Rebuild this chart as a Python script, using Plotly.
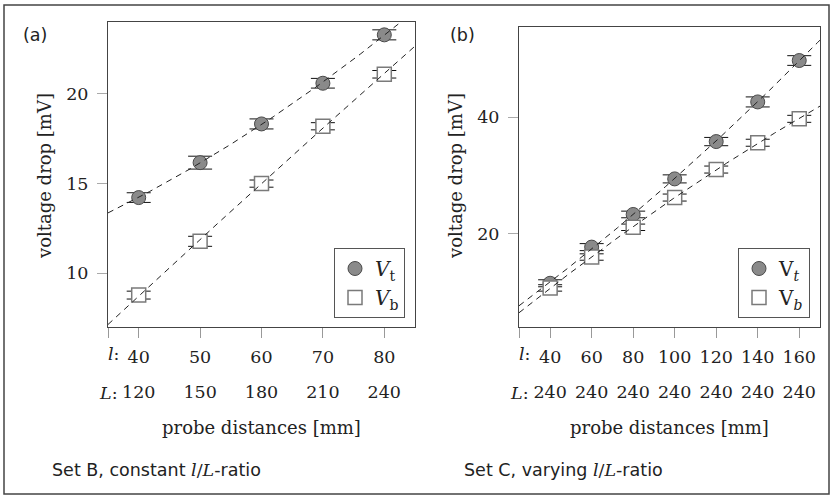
import numpy as np
import plotly.graph_objects as go

# ---------------- data ----------------
# Set B (panel a): constant l/L ratio
a_l = [40, 50, 60, 70, 80]
a_L = [120, 150, 180, 210, 240]
a_vt = [14.22, 16.17, 18.33, 20.6, 23.3]
a_vt_err = [0.27, 0.36, 0.28, 0.27, 0.28]
a_vb = [8.78, 11.78, 15.0, 18.2, 21.1]
a_vb_err = [0.22, 0.28, 0.2, 0.2, 0.21]
a_yticks = [10, 15, 20]

# Set C (panel b): varying l/L ratio
b_l = [40, 60, 80, 100, 120, 140, 160]
b_L = [240, 240, 240, 240, 240, 240, 240]
b_vt = [11.5, 17.7, 23.3, 29.4, 35.8, 42.6, 49.7]
b_vt_err = [0.6, 0.6, 0.57, 0.69, 0.71, 0.86, 0.83]
b_vb = [10.7, 16.0, 21.1, 26.2, 31.0, 35.6, 39.7]
b_vb_err = [0.55, 0.55, 0.55, 0.6, 0.6, 0.6, 0.6]
b_yticks = [20, 40]

a_xrange = [35, 85]
a_yrange = [7, 24]
b_xrange = [25, 170]
b_yrange = [4, 55.5]

W, H = 832, 498

SERIF = "DejaVu Serif"
SANS = "DejaVu Sans"
TICKFONT = dict(family=SERIF, size=17.5, color="#222")

CIRCLE = dict(symbol="circle", size=14, color="#8a8a8a", line=dict(color="#4a4a4a", width=1))
SQUARE = dict(symbol="square", size=14, color="white", line=dict(color="#7a7a7a", width=1.5))
ERR = dict(color="#111", thickness=1, width=12)
FITLINE = dict(color="#222", width=1, dash="6px,5px")


def px_x(p):
    return p / W


def px_y(p):
    return 1 - p / H


fig = go.Figure()


def add_panel(xs, vt, vt_err, vb, vb_err, xr, xa, ya, legend, names):
    fig.add_trace(go.Scatter(x=xs, y=vt, mode="markers", marker=CIRCLE,
                             error_y=dict(type="data", array=vt_err, **ERR),
                             xaxis=xa, yaxis=ya, legend=legend, name=names[0]))
    fig.add_trace(go.Scatter(x=xs, y=vb, mode="markers", marker=SQUARE,
                             error_y=dict(type="data", array=vb_err, **ERR),
                             xaxis=xa, yaxis=ya, legend=legend, name=names[1]))
    grid = np.linspace(xr[0], xr[1], 120)
    for series in (vt, vb):
        coef = np.polyfit(xs, series, 2)
        fig.add_trace(go.Scatter(x=grid, y=np.polyval(coef, grid), mode="lines",
                                 line=FITLINE, xaxis=xa, yaxis=ya,
                                 showlegend=False, hoverinfo="skip"))


add_panel(a_l, a_vt, a_vt_err, a_vb, a_vb_err, a_xrange, "x", "y", "legend",
          ["<i>V</i><sub>t</sub>", "<i>V</i><sub>b</sub>"])
add_panel(b_l, b_vt, b_vt_err, b_vb, b_vb_err, b_xrange, "x2", "y2", "legend2",
          ["V<sub><i>t</i></sub>", "V<sub><i>b</i></sub>"])

# invisible traces so that the L-row axes are drawn
fig.add_trace(go.Scatter(x=a_l, y=[None] * len(a_l), xaxis="x3", yaxis="y",
                         showlegend=False, hoverinfo="skip", mode="markers"))
fig.add_trace(go.Scatter(x=b_l, y=[None] * len(b_l), xaxis="x4", yaxis="y2",
                         showlegend=False, hoverinfo="skip", mode="markers"))

a_dom_x = [px_x(108), px_x(415)]
b_dom_x = [px_x(519), px_x(820)]
a_dom_y = [px_y(327), px_y(22.3)]
b_dom_y = [px_y(327), px_y(26.7)]

frame = dict(showline=True, mirror=True, linecolor="#444", linewidth=1,
             showgrid=False, zeroline=False, automargin=False)
xtick = dict(ticks="outside", ticklen=10, tickcolor="#999", tickwidth=1,
             tickfont=TICKFONT, ticklabelstandoff=4)
ytick = dict(ticks="outside", ticklen=10, tickcolor="#aaa", tickwidth=1,
             tickfont=TICKFONT, ticklabelstandoff=5)

Lrow_pos = px_y(375)

fig.update_layout(
    width=W, height=H,
    margin=dict(l=0, r=0, t=0, b=0),
    paper_bgcolor="white", plot_bgcolor="white",
    xaxis=dict(domain=a_dom_x, range=a_xrange, anchor="y",
               tickvals=a_l, ticktext=[str(v) for v in a_l],
               minor=dict(tickvals=[a_xrange[0]], ticks="outside", ticklen=10,
                          tickcolor="#999", tickwidth=1, showgrid=False),
               **frame, **xtick),
    yaxis=dict(domain=a_dom_y, range=a_yrange, anchor="x",
               tickvals=a_yticks, **frame, **ytick),
    xaxis2=dict(domain=b_dom_x, range=b_xrange, anchor="y2",
                tickvals=b_l, ticktext=[str(v) for v in b_l],
                minor=dict(tickvals=[b_xrange[0]], ticks="outside", ticklen=10,
                           tickcolor="#999", tickwidth=1, showgrid=False),
                **frame, **xtick),
    yaxis2=dict(domain=b_dom_y, range=b_yrange, anchor="x2",
                tickvals=b_yticks, **frame, **ytick),
    xaxis3=dict(overlaying="x", anchor="free", position=Lrow_pos, range=a_xrange,
                tickvals=a_l, ticktext=[str(v) for v in a_L], showline=False,
                ticks="", showgrid=False, zeroline=False, tickfont=TICKFONT,
                ticklabelstandoff=4, automargin=False),
    xaxis4=dict(overlaying="x2", anchor="free", position=Lrow_pos, range=b_xrange,
                tickvals=b_l, ticktext=[str(v) for v in b_L], showline=False,
                ticks="", showgrid=False, zeroline=False, tickfont=TICKFONT,
                ticklabelstandoff=4, automargin=False),
    legend=dict(x=px_x(405), xanchor="right", y=px_y(318), yanchor="bottom",
                bgcolor="white", bordercolor="#555", borderwidth=1,
                font=dict(family=SERIF, size=20, color="#222"),
                tracegroupgap=0, itemwidth=30),
    legend2=dict(x=px_x(810), xanchor="right", y=px_y(318), yanchor="bottom",
                 bgcolor="white", bordercolor="#555", borderwidth=1,
                 font=dict(family=SERIF, size=20, color="#222"),
                 tracegroupgap=0, itemwidth=30),
    showlegend=True,
)

ann = []
# y-axis titles
for xc in (45, 456):
    ann.append(dict(text="voltage drop [mV]", x=px_x(xc), y=px_y(176), xref="paper", yref="paper",
                    textangle=-90, showarrow=False, xanchor="center", yanchor="middle",
                    font=dict(family=SERIF, size=18, color="#222")))
# x-axis titles
for xc in ((108 + 415) / 2, (519 + 820) / 2):
    ann.append(dict(text="probe distances [mm]", x=px_x(xc), y=px_y(427), xref="paper", yref="paper",
                    showarrow=False, xanchor="center", yanchor="middle",
                    font=dict(family=SERIF, size=18, color="#222")))
# row prefixes
for xref, x0 in (("x", a_l[0]), ("x2", b_l[0])):
    ann.append(dict(text="<i>l</i>:", x=x0, xref=xref, y=px_y(353.7), yref="paper",
                    xanchor="right", yanchor="middle", xshift=-17, showarrow=False,
                    font=dict(family=SERIF, size=17.5, color="#222")))
    ann.append(dict(text="<i>L</i>:", x=x0, xref=xref, y=px_y(392.5), yref="paper",
                    xanchor="right", yanchor="middle", xshift=-19, showarrow=False,
                    font=dict(family=SERIF, size=17.5, color="#222")))
# panel labels
for txt, xl in (("(a)", 21), ("(b)", 448)):
    ann.append(dict(text=txt, x=px_x(xl), y=px_y(35), xref="paper", yref="paper",
                    xanchor="left", yanchor="middle", showarrow=False,
                    font=dict(family=SANS, size=17.5, color="#222")))
# captions
ital = '<span style="font-family:DejaVu Serif;"><i>l</i>/<i>L</i></span>'
for txt, xl in (("Set B, constant " + ital + "-ratio", 50), ("Set C, varying " + ital + "-ratio", 461.5)):
    ann.append(dict(text=txt, x=px_x(xl), y=px_y(470), xref="paper", yref="paper",
                    xanchor="left", yanchor="middle", showarrow=False,
                    font=dict(family=SANS, size=17.5, color="#222")))
fig.update_layout(annotations=ann)

# outer frame
fig.add_shape(type="rect", xref="paper", yref="paper",
              x0=px_x(4), x1=px_x(829), y0=px_y(494), y1=px_y(5),
              line=dict(color="#444", width=1.5))

fig.write_html("out.html")
